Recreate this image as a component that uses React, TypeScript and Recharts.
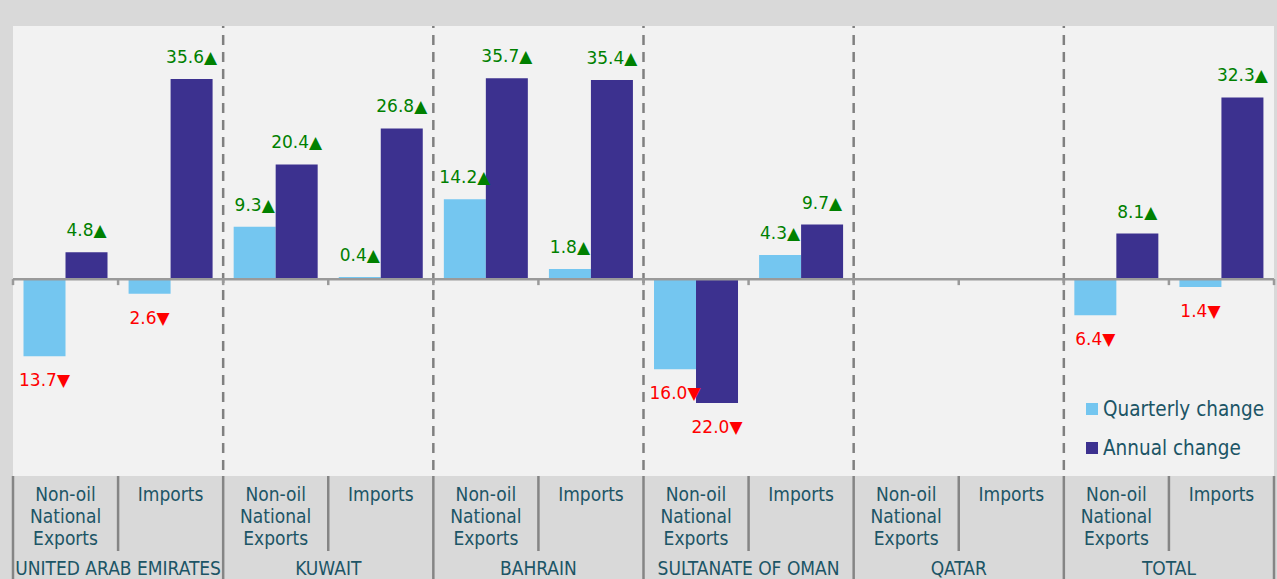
import React from "react";
import { BarChart, Bar, XAxis, YAxis, CartesianGrid, ReferenceLine, LabelList, Legend } from "recharts";

// ---- data ----
const groups = ["UNITED ARAB EMIRATES", "KUWAIT", "BAHRAIN", "SULTANATE OF OMAN", "QATAR", "TOTAL"];
const subLabels = [["Non-oil", "National", "Exports"], ["Imports"]];
const seriesNames = ["Quarterly change", "Annual change"];
const quarterly = [-13.7, -2.6, 9.3, 0.4, 14.2, 1.8, -16.0, 4.3, null, null, -6.4, -1.4];
const annual = [4.8, 35.6, 20.4, 26.8, 35.7, 35.4, -22.0, 9.7, null, null, 8.1, 32.3];
const yDomain = [-35, 45];

const data = groups.flatMap((g, gi) =>
  [0, 1].map((s) => {
    const i = gi * 2 + s;
    return { id: `${g}-${s}`, group: g, sub: s, quarterly: quarterly[i], annual: annual[i] };
  })
);

// ---- layout / style ----
const W = 1277;
const H = 579;
const MARGIN = { top: 26, right: 3, left: 13, bottom: 0 };
const AXIS_H = 103;
const BAND = (W - MARGIN.left - MARGIN.right) / data.length;
const C_Q = "#74c6f0";
const C_A = "#3c318f";
const SERIES_COLORS = [C_Q, C_A];
const TEAL = "#1c5566";
const SEP = "#858585";
const GREEN = "#008000";
const RED = "#ff0000";
const COND = '"DejaVu Sans Condensed", "DejaVu Sans", sans-serif';

const CategoryTick = (props: any) => {
  const { x, y, index } = props;
  const d = data[index];
  if (!d) return null;
  const left = x - BAND / 2;
  const lines = subLabels[d.sub];
  return (
    <g>
      <line x1={left} x2={left} y1={y} y2={d.sub === 0 ? y + AXIS_H : y + 75} stroke={SEP} strokeWidth={2.5} />
      {index === data.length - 1 && (
        <line x1={x + BAND / 2} x2={x + BAND / 2} y1={y} y2={y + AXIS_H} stroke={SEP} strokeWidth={2.5} />
      )}
      <text x={x} y={y + 25} textAnchor="middle" fill={TEAL} fontSize={19} fontFamily={COND} style={{ fontStretch: "condensed" }}>
        {lines.map((l, k) => (
          <tspan key={k} x={x} dy={k === 0 ? 0 : 22}>
            {l}
          </tspan>
        ))}
      </text>
      {d.sub === 0 && (
        <text x={x + BAND / 2} y={y + 99} textAnchor="middle" fill={TEAL} fontSize={19} fontFamily={COND} style={{ fontStretch: "condensed" }}>
          {d.group}
        </text>
      )}
    </g>
  );
};

const renderValueLabel = (props: any) => {
  const { x, y, width, height, value } = props;
  if (value === null || value === undefined) return null;
  const xx = Number(x), yy = Number(y), ww = Number(width), hh = Number(height);
  const top = Math.min(yy, yy + hh);
  const bottom = Math.max(yy, yy + hh);
  const pos = value >= 0;
  const cy = pos ? top - 22 : bottom + 24;
  return (
    <text
      x={xx + ww / 2}
      y={cy}
      textAnchor="middle"
      dominantBaseline="central"
      fill={pos ? GREEN : RED}
      fontSize={17}
      fontFamily='"DejaVu Sans", sans-serif'
    >
      {Math.abs(value).toFixed(1)}
      {pos ? "▲" : "▼"}
    </text>
  );
};

const ZeroLine = (props: any) => {
  const { x1, x2, y1 } = props;
  const ticks = [];
  for (let i = 0; i <= data.length; i++) {
    const tx = Math.min(x1, x2) + i * BAND;
    ticks.push(<line key={i} x1={tx} x2={tx} y1={y1} y2={y1 + 6} stroke="#9a9a9a" strokeWidth={2.5} />);
  }
  return (
    <g>
      <line x1={x1} x2={x2} y1={y1} y2={y1} stroke="#9a9a9a" strokeWidth={2.5} />
      {ticks}
    </g>
  );
};

const LegendContent = () => (
  <div style={{ fontFamily: COND, fontStretch: "condensed", fontSize: 20.5, color: TEAL }}>
    {seriesNames.map((name, k) => (
      <div key={k} style={{ display: "flex", alignItems: "center", height: 39 }}>
        <span style={{ display: "inline-block", width: 12, height: 12, background: SERIES_COLORS[k], marginRight: 5 }} />
        <span>{name}</span>
      </div>
    ))}
  </div>
);

export default function App() {
  return (
    <div style={{ width: W, height: H, background: "#d9d9d9", position: "relative", overflow: "hidden" }}>
      <style>{`body{margin:0}`}</style>
      <BarChart width={W} height={H} data={data} margin={MARGIN} barCategoryGap="10%" barGap={0}>
        <CartesianGrid
          fill="#f2f2f2"
          horizontal={false}
          stroke="#808080"
          strokeWidth={2.5}
          strokeDasharray="10 7"
          strokeDashoffset={8}
          verticalCoordinatesGenerator={({ offset }: any) =>
            [1, 2, 3, 4, 5].map((i) => offset.left + (i * offset.width) / groups.length)
          }
        />
        <XAxis
          dataKey="id"
          height={AXIS_H}
          axisLine={false}
          tickLine={false}
          tickSize={0}
          tickMargin={0}
          interval={0}
          tick={<CategoryTick />}
        />
        <YAxis hide domain={yDomain} type="number" allowDataOverflow />
        <ReferenceLine y={0} shape={<ZeroLine />} />
        <Legend
          layout="vertical"
          align="center"
          verticalAlign="middle"
          wrapperStyle={{ left: 1086, top: 389, width: 190 }}
          content={<LegendContent />}
        />
        <Bar dataKey="quarterly" name={seriesNames[0]} fill={C_Q} isAnimationActive={false}>
          <LabelList dataKey="quarterly" content={renderValueLabel} />
        </Bar>
        <Bar dataKey="annual" name={seriesNames[1]} fill={C_A} isAnimationActive={false}>
          <LabelList dataKey="annual" content={renderValueLabel} />
        </Bar>
      </BarChart>
    </div>
  );
}
